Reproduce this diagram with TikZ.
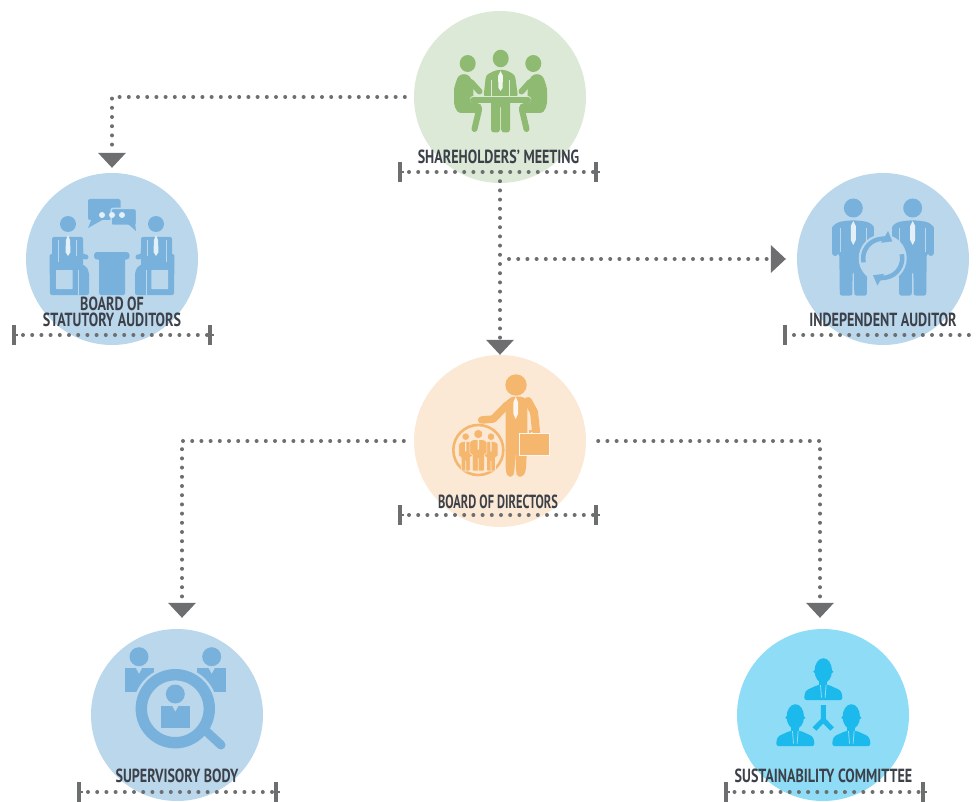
\documentclass[tikz,border=0pt]{standalone}
\usepackage{fontspec}
\setmainfont[FakeStretch=0.74]{PT Sans}
\usetikzlibrary{arrows.meta}
\definecolor{meetingbg}{HTML}{DDE9D7}
\definecolor{meetingfg}{HTML}{8FBA72}
\definecolor{bluebg}{HTML}{BBD7EC}
\definecolor{bluefg}{HTML}{78B2DC}
\definecolor{boardbg}{HTML}{FBE9D6}
\definecolor{boardfg}{HTML}{F5B76E}
\definecolor{cyanbg}{HTML}{8FDCF6}
\definecolor{cyanfg}{HTML}{1CB9EC}
\definecolor{labelfg}{HTML}{3C4149}
\definecolor{linefg}{HTML}{6D6E70}
\tikzset{
  organ/.style={circle, minimum size=172pt, inner sep=0pt},
  caption/.style={font=\fontsize{19}{16}\selectfont\bfseries, text=labelfg, align=center, inner sep=0pt},
  flow/.style={linefg, line width=4pt, line cap=round, dash pattern=on 0pt off 9.2pt},
  flowto/.style={flow, -{Triangle[length=15pt, width=28pt, sep=3pt, line width=0pt]}},
  bar/.style={linefg, line width=4pt},
  limb/.style={line width=#1, line cap=round, line join=round}
}
\begin{document}
\begin{tikzpicture}[x=1pt, y=-1pt]
  \useasboundingbox (0, 0) rectangle (976, 802);
  \node (meeting) [organ, fill=meetingbg] at (500, 97) {};
  \node (auditors) [organ, fill=bluebg] at (112, 259) {};
  \node (independent) [organ, fill=bluebg] at (883, 259) {};
  \node (board) [organ, fill=boardbg] at (500, 441) {};
  \node (supervisory) [organ, fill=bluebg] at (177, 715) {};
  \node (committee) [organ, fill=cyanbg] at (823, 715) {};
  % shareholders icon
  \begin{scope}[meetingfg]
    \fill (500.7, 58.5) ellipse (8 and 8.8);
    \fill (467.7, 63.5) ellipse (8 and 8.5) (533.3, 63.5) ellipse (8 and 8.5);
    \fill [rounded corners=3pt] (483.5, 97) -- (486, 75) -- (496, 70) -- (506, 70) -- (515, 75) -- (518, 97) -- (510, 98)
      -- (510, 132.5) -- (501.2, 132.5) -- (501.2, 105) -- (500, 105) -- (500, 132.5) -- (491, 132.5) -- (491, 98) -- cycle;
    \draw [meetingbg, line width=0.8pt] (491.5, 80) -- (491.5, 97) (509.5, 80) -- (509.5, 97);
    \fill [meetingbg!40!white] (500.5, 71) -- (503, 76) -- (502.5, 88) -- (500.5, 91) -- (498.5, 88) -- (498, 76) -- cycle;
    \foreach \flip/\shift in {1/0, -1/1001} {
      \begin{scope}[xscale=\flip, xshift=\shift*\flip*1pt]
        \fill [rounded corners=3pt] (454, 104) -- (454, 88) -- (458, 76) -- (464, 73.5) -- (470, 76) -- (473, 84)
          -- (474, 110) -- (460, 113.5) -- (456, 110) -- cycle;
        \draw [limb=6pt] (471, 82) -- (479.5, 91.5);
        \draw [limb=10pt] (461, 108) -- (477, 108);
        \draw [limb=6pt] (479, 110) -- (474.5, 129);
      \end{scope}
    }
    \draw [line width=6.5pt, line cap=round, draw=meetingbg] (473, 99.5) -- (528, 99.5);
    \draw [line width=6pt, line cap=round] (473, 100.5) -- (528, 100.5);
  \end{scope}
  % statutory auditors icon
  \begin{scope}[bluefg]
    \fill [rounded corners=2pt] (88, 199) rectangle (120.5, 220);
    \fill (92, 218) -- (88, 228) -- (104, 219) -- cycle;
    \draw [bluebg, line width=1.5pt, fill=bluefg, rounded corners=2pt] (111, 208.5) rectangle (136.5, 225.5);
    \fill (128, 224) -- (136, 231) -- (135, 222) -- cycle;
    \foreach \x in {102, 112, 122} \fill [bluebg!40!white] (\x, 215) circle (3);
    \fill [rounded corners=3pt] (94, 252) rectangle (129.5, 259.5);
    \fill [rounded corners=1.5pt] (99, 256) rectangle (125, 295);
    \foreach \flip/\shift in {1/0, -1/224} {
      \begin{scope}[xscale=\flip, xshift=\shift*\flip*1pt]
        \fill (68, 224) circle (8);
        \fill [rounded corners=2pt] (52, 237) rectangle (83, 266);
        \fill [rounded corners=2pt] (49.5, 254) -- (55, 254) -- (55, 263) -- (78, 263) -- (86, 266) -- (89, 272) -- (89, 295) -- (50, 295) -- cycle;
        \fill [bluebg, rounded corners=0.5pt] (56, 270) rectangle (72.7, 289);
        \draw [bluebg, line width=0.8pt] (78, 270) -- (78, 295);
        \draw [limb=5pt] (80, 240) -- (81, 256) -- (86, 257);
        \draw [bluebg, line width=0.8pt] (58, 240) -- (58, 262) (76.5, 240) -- (76.5, 256);
        \fill [bluebg!40!white] (68, 235) -- (70, 240) -- (70.5, 252) -- (68, 256) -- (65.5, 252) -- (66, 240) -- cycle;
      \end{scope}
    }
  \end{scope}
  % independent auditor icon
  \begin{scope}[bluefg]
    \foreach \xc in {853.3, 912.7} {
      \begin{scope}[shift={(\xc, 0)}]
        \fill (0, 208) circle (9.5);
        \fill [rounded corners=2pt] (-20.5, 254) -- (-20.5, 226) -- (-15, 222) -- (-5, 220.5) -- (5, 220.5) -- (15, 222) -- (20.5, 226)
          -- (20.5, 254) -- (14, 254) -- (13.5, 295.5) -- (1, 295.5) -- (0.7, 272) -- (-0.7, 272) -- (-1, 295.5) -- (-13.5, 295.5) -- (-14, 254) -- cycle;
        \draw [limb=6pt] (-18, 228) -- (-18, 253) (18, 228) -- (18, 253);
        \fill [bluebg!40!white] (0, 221) -- (2.5, 226) -- (2.5, 240) -- (0, 245) -- (-2.5, 240) -- (-2.5, 226) -- cycle;
        \draw [bluebg, line width=0.8pt] (-13, 228) -- (-13, 252) (13, 228) -- (13, 252);
      \end{scope}
    }
    \fill [bluebg] (882.7, 258.3) circle (24);
    \draw [line width=4.5pt, -{Triangle[length=9pt, width=13pt]}] (863.6, 262.35) arc (168:300:19.5);
    \draw [line width=4.5pt, -{Triangle[length=9pt, width=13pt]}] (901.8, 254.25) arc (-12:120:19.5);
  \end{scope}
  % board of directors icon
  \begin{scope}[boardfg]
    \fill (516, 385) circle (10.7);
    \fill [rounded corners=2pt] (505.7, 410) -- (505, 402) -- (512, 396.5) -- (522, 396.5) -- (527.3, 400)
      -- (527.3, 440) -- (526, 470) -- (523, 476.7) -- (517, 476.7) -- (516, 470) -- (515.5, 450)
      -- (514.5, 470) -- (513, 476.7) -- (507.5, 476.7) -- (505.7, 470) -- cycle;
    \draw [limb=7.5pt] (507, 405) -- (493.3, 419) -- (481.7, 420);
    \draw [limb=8pt] (528, 401) -- (534, 412) -- (536, 431);
    \fill [boardbg!40!white] (515.7, 397) -- (518, 402) -- (518, 414) -- (515.7, 419) -- (513.4, 414) -- (513.4, 402) -- cycle;
    \draw [line width=1.5pt] (530, 433) -- (530, 431) -- (539, 431) -- (539, 433);
    \fill [draw=boardbg!40!white, line width=1pt] (519, 433.5) rectangle (549, 455.5);
    \draw [line width=2.6pt, draw=boardfg, fill=boardbg] (478.3, 450) circle (25);
    \foreach \xc/\yc/\rr/\hw in {465.7/436.7/3.7/7, 491/436.7/3.7/7, 478.3/434/4.5/8.5} {
      \begin{scope}[shift={(\xc, \yc)}]
        \fill [draw=boardbg, line width=0.5pt] (0, 0) circle (\rr);
        \fill [draw=boardbg, line width=0.6pt, rounded corners=1pt] (-\hw, 20) -- (-\hw, \rr+3) -- (-\hw+4, \rr+1) -- (\hw-4, \rr+1) -- (\hw, \rr+3) -- (\hw, 20)
          -- (\hw-2.5, 20) -- (\hw-2.5, 471-\yc) -- (-\hw+2.5, 471-\yc) -- (-\hw+2.5, 20) -- cycle;
        \fill [boardbg] (-0.7, \rr+1) rectangle (0.7, \rr+11) (-0.4, 24) rectangle (0.4, 471-\yc);
      \end{scope}
    }
  \end{scope}
  % supervisory body icon
  \begin{scope}[bluefg]
    \foreach \xc/\yc in {139/656.7, 211.7/656.7} {
      \fill (\xc, \yc) circle (9.5);
      \fill (\xc-14.5, \yc+11.5) rectangle (\xc+14.5, \yc+35.5);
      \fill [bluebg] (\xc-3, \yc+11.5) -- (\xc+3, \yc+11.5) -- (\xc, \yc+17) -- cycle;
    }
    \draw [bluebg, line width=2.5pt, fill=bluebg] (175.3, 708.7) circle (41);
    \draw [limb=9pt] (206, 731) -- (221, 745);
    \draw [bluebg, line width=2pt] (204, 728) -- (209, 724);
    \draw [line width=11.4pt] (175.3, 708.7) circle (34);
    \fill (175.3, 694) circle (9.5);
    \fill (161, 706) rectangle (190, 728.3);
    \fill [bluebg] (172.3, 706) -- (178.3, 706) -- (175.3, 711.5) -- cycle;
  \end{scope}
  % sustainability committee icon
  \begin{scope}[cyanfg]
    \foreach \xc/\yc in {823.3/670.7, 795.3/716.7, 851.3/716.7} {
      \begin{scope}[shift={(\xc, \yc)}]
        \fill (0, 0) ellipse (8.7 and 12.5);
        \fill (-8.7, 1) circle (1.4) (8.7, 1) circle (1.4);
        \fill (-4, 8) rectangle (4, 16);
        \fill [rounded corners=3pt] (-19.5, 29.5) -- (-18, 20) -- (-5, 14) -- (5, 14) -- (18, 20) -- (19.5, 29.5) -- cycle;
        \draw [cyanbg, line width=0.8pt] (-2.8, 14.5) -- (-1.8, 27) (2.8, 14.5) -- (1.8, 27);
      \end{scope}
    }
    \draw [line width=5pt] (823.3, 705) -- (823.3, 721) (814.5, 729) -- (823.3, 720) -- (832.1, 729);
  \end{scope}
  % captions
  \node (meetingname) [caption] at (498.5, 156.5) {SHAREHOLDERS' MEETING};
  \node (auditorsname) [caption] at (112, 311.5) {BOARD OF\\STATUTORY AUDITORS};
  \node (independentname) [caption] at (883, 319.5) {INDEPENDENT AUDITOR};
  \node (boardname) [caption, transform shape, xscale=0.88] at (498, 501.5) {BOARD OF DIRECTORS};
  \node (supervisoryname) [caption] at (177, 775.5) {SUPERVISORY BODY};
  \node (committeename) [caption] at (823.5, 776) {SUSTAINABILITY COMMITTEE};
  % bars under the captions
  \foreach \left/\right/\level in {400/596/172, 14/210/335, 400/596/515, 79/275.5/792, 725.5/922.5/792} {
    \draw [bar] (\left, \level-10) -- (\left, \level+10) (\right, \level-10) -- (\right, \level+10);
    \draw [linefg, line width=1.5pt] (\left, \level) -- (\left+4, \level) (\right, \level) -- (\right+4, \level);
    \draw [flow] (\left+9, \level) -- (\right-3, \level);
  }
  \draw [bar] (785, 325) -- (785, 345);
  \coordinate (independentbar) at (785, 335);
  \draw [flow] (independentbar) ++(9, 0) -- ++(178, 0);
  % connectors
  \coordinate (meetingbar) at (500, 172);
  \coordinate (branch) at (meetingbar |- independent.west);
  \draw [flowto, shorten <=9pt, shorten >=2pt] (meeting.west) -| (auditors.north);
  \draw [flowto, shorten >=-3pt] (meetingbar) -- (board.north);
  \draw [flowto, shorten <=9pt, shorten >=8pt] (branch) -- (independent.west);
  \draw [flowto, shorten <=10pt, shorten >=8pt] (board.west) -| ([xshift=5pt]supervisory.north);
  \draw [flowto, shorten <=12pt, shorten >=8pt] (board.east) -| ([xshift=-3pt]committee.north);
\end{tikzpicture}
\end{document}
